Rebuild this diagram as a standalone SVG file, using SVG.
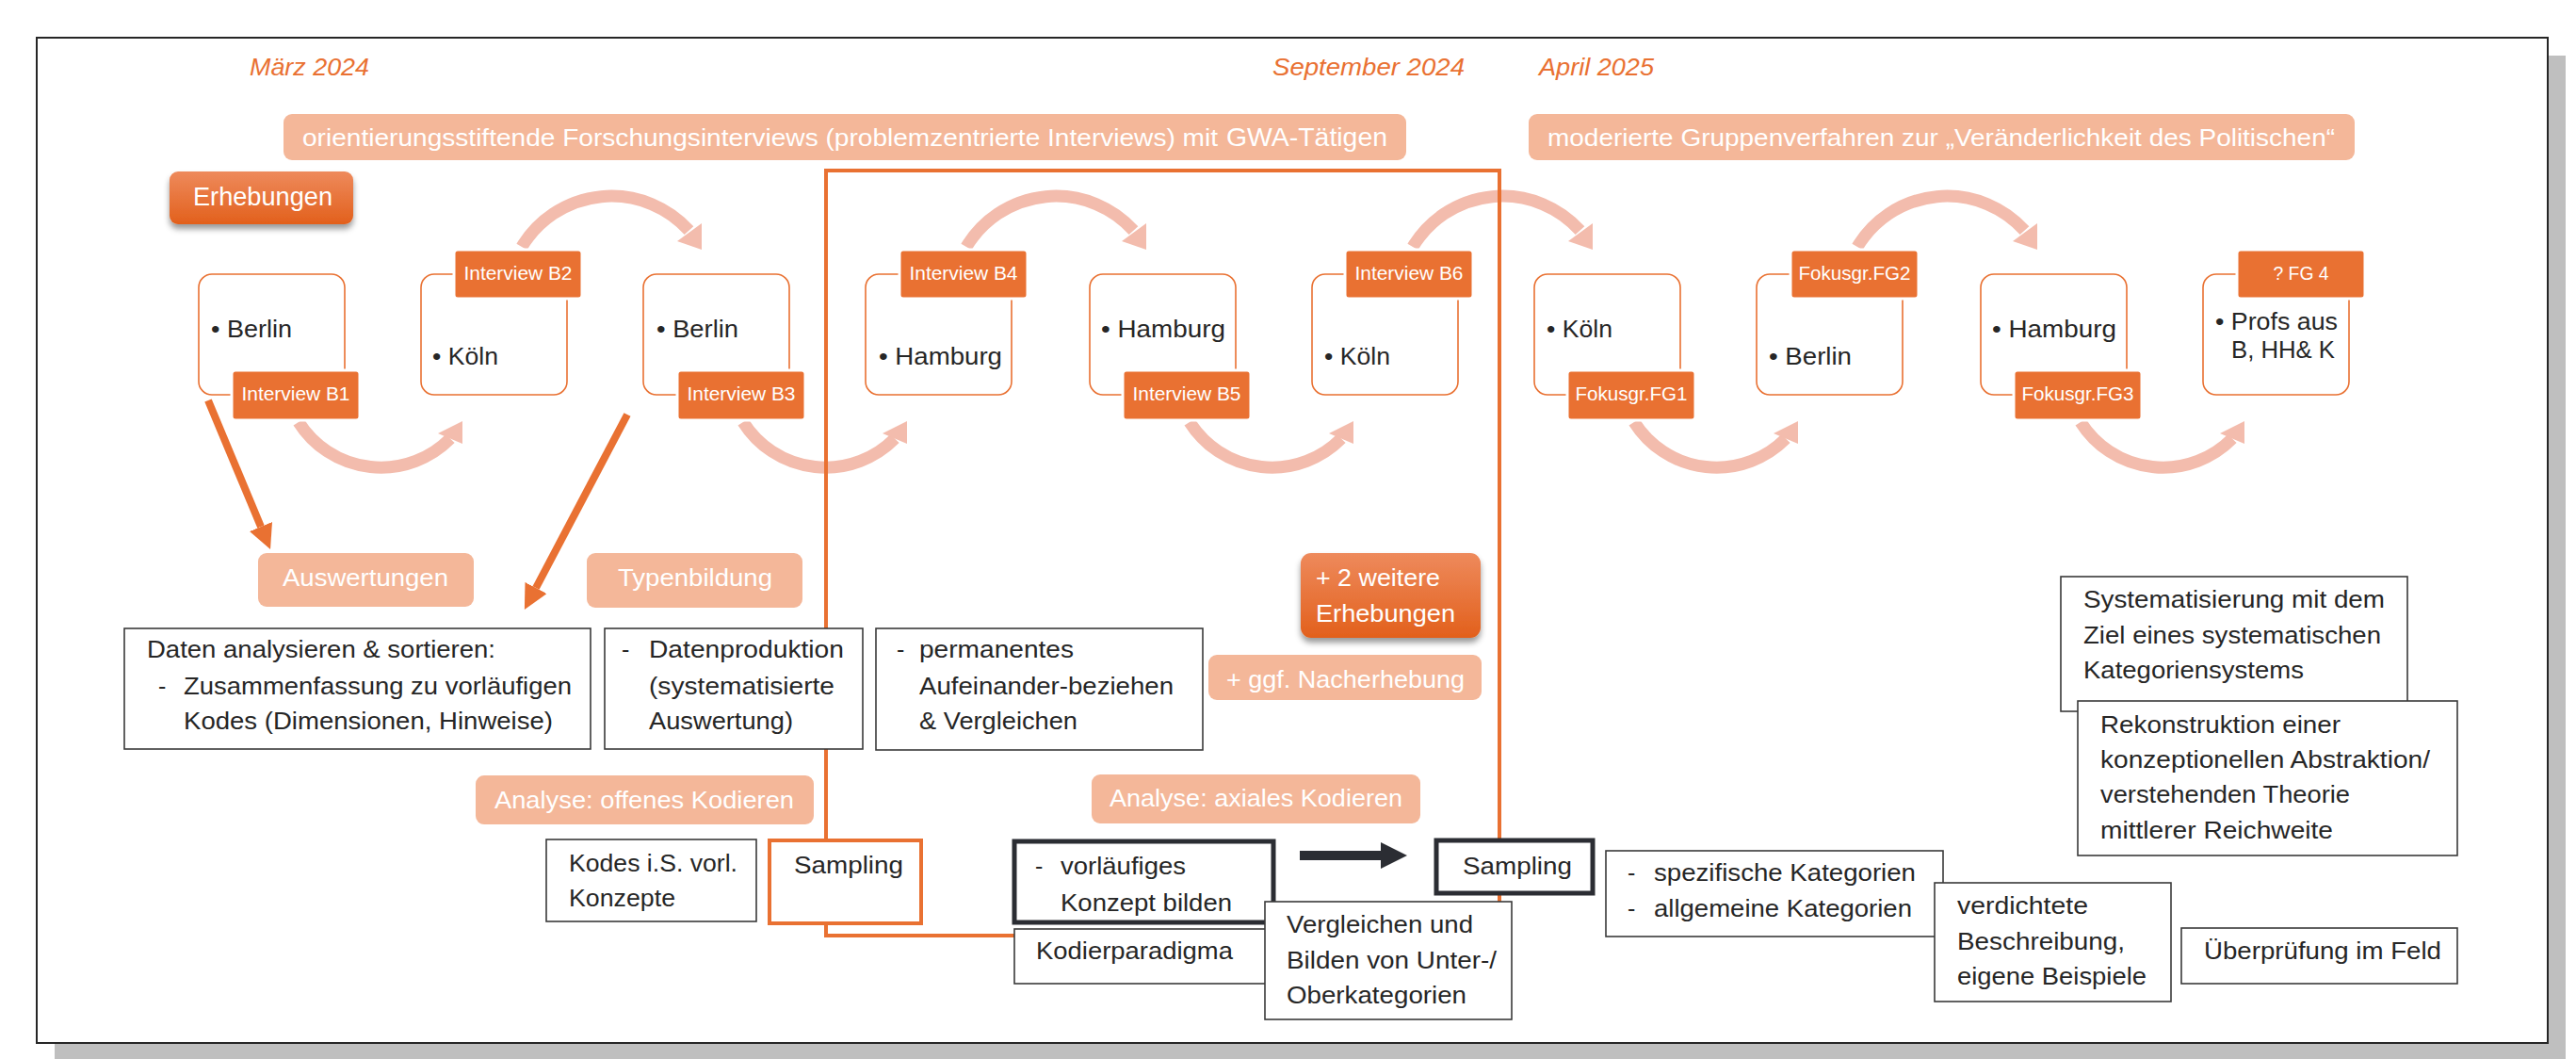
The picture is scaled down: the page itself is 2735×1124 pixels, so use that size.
<svg xmlns="http://www.w3.org/2000/svg" width="2735" height="1124" viewBox="0 0 2735 1124">
<defs>
<linearGradient id="gOr" x1="0" y1="0" x2="0" y2="1"><stop offset="0" stop-color="#EE8A5C"/><stop offset="1" stop-color="#E2601C"/></linearGradient>
<filter id="sh" x="-20%" y="-20%" width="140%" height="170%"><feDropShadow dx="0" dy="5" stdDeviation="3" flood-color="#000" flood-opacity="0.4"/></filter>
<marker id="mOr" markerUnits="userSpaceOnUse" viewBox="0 0 26 26" markerWidth="26" markerHeight="26" refX="0" refY="13" orient="auto"><path d="M0,0 L26,13 L0,26 z" fill="#E97132"/></marker>
<marker id="mBk" markerUnits="userSpaceOnUse" viewBox="0 0 28 28" markerWidth="28" markerHeight="28" refX="0" refY="14" orient="auto"><path d="M0,0 L28,14 L0,28 z" fill="#2B2D33"/></marker>
<g id="arcT"><path d="M107,262 A111,111 0 0 1 284.5,244.7" class="arc"/><polygon points="272,256 298,237 298,265" class="arcH"/></g>
<g id="arcB"><path d="M106,448 A103.5,103.5 0 0 0 267,465.5" class="arc"/><polygon points="254,460 280,471 280,447" class="arcH"/></g>
</defs>
<style>
.t{font-family:"Liberation Sans",Arial,sans-serif;fill:#262626;font-size:25px}
.w{fill:#fff}
.mon{font-style:italic;fill:#E97132;font-size:26px}
.nb{fill:#fff;stroke:#E97132;stroke-width:1.6}
.lb{fill:#E97132;stroke:#fff;stroke-width:3}
.lt{font-size:20px;fill:#fff;text-anchor:middle}
.bx{fill:#fff;stroke:#3A3A3A;stroke-width:1.6}
.lp{fill:#F4B799}
.arc{fill:none;stroke:#F3BCAD;stroke-width:13}
.arcH{fill:#F3BCAD}
.ol{fill:none;stroke:#E97132;stroke-width:8}
</style>

<!-- page frame -->
<rect x="58" y="59" width="2666" height="1066" fill="#BFBFBF"/>
<rect x="39" y="40" width="2666" height="1067" fill="#fff" stroke="#262626" stroke-width="2"/>

<!-- time labels -->
<g id="months">
<text class="t mon" x="265" y="80" textLength="127" lengthAdjust="spacingAndGlyphs">März 2024</text>
<text class="t mon" x="1351" y="80" textLength="204" lengthAdjust="spacingAndGlyphs">September 2024</text>
<text class="t mon" x="1634" y="80" textLength="122" lengthAdjust="spacingAndGlyphs">April 2025</text>
</g>

<!-- banners -->
<g id="banner1">
<rect class="lp" x="301" y="121" width="1192" height="49" rx="9"/>
<text class="t w" x="321" y="155" textLength="972" lengthAdjust="spacingAndGlyphs">orientierungsstiftende Forschungsinterviews (problemzentrierte Interviews) mit</text>
<text class="t w" x="1302" y="155" style="font-size:28px" textLength="171" lengthAdjust="spacingAndGlyphs">GWA-Tätigen</text>
</g>
<g id="banner2">
<rect class="lp" x="1623" y="121" width="877" height="49" rx="9"/>
<text class="t w" x="1643" y="155" textLength="836" lengthAdjust="spacingAndGlyphs">moderierte Gruppenverfahren zur „Veränderlichkeit des Politischen“</text>
</g>

<g id="erhebungen">
<rect x="180" y="182" width="195" height="56" rx="9" fill="url(#gOr)" filter="url(#sh)"/>
<text class="t w" x="205" y="218" style="font-size:27px" textLength="148" lengthAdjust="spacingAndGlyphs">Erhebungen</text>
</g>

<!-- connectors -->
<g id="connectors">
<use href="#arcT" transform="translate(447,0)"/>
<use href="#arcT" transform="translate(919,0)"/>
<use href="#arcT" transform="translate(1393,0)"/>
<use href="#arcT" transform="translate(1865,0)"/>
<use href="#arcB" transform="translate(211,0)"/>
<use href="#arcB" transform="translate(683,0)"/>
<use href="#arcB" transform="translate(1157,0)"/>
<use href="#arcB" transform="translate(1629,0)"/>
<use href="#arcB" transform="translate(2103,0)"/>
<line class="ol" x1="221" y1="425" x2="277" y2="559" marker-end="url(#mOr)"/>
<line class="ol" x1="666" y1="440" x2="569" y2="624" marker-end="url(#mOr)"/>
<line x1="1380" y1="908" x2="1466" y2="908" stroke="#2B2D33" stroke-width="10" marker-end="url(#mBk)"/>
</g>

<!-- orange frame (phase) -->
<g id="phaseFrame">
<rect x="877" y="181" width="715" height="812" fill="none" stroke="#E97132" stroke-width="4"/>
</g>

<!-- interview / focus group nodes -->
<g id="nodeB1">
<rect class="nb" x="211" y="291" width="155" height="128" rx="14"/>
<text class="t" x="224" y="358" textLength="86" lengthAdjust="spacingAndGlyphs">• Berlin</text>
<rect class="lb" x="246" y="393" width="136" height="53" rx="4"/>
<text class="t lt" x="314" y="425" textLength="115" lengthAdjust="spacingAndGlyphs">Interview B1</text>
</g>
<g id="nodeB2">
<rect class="nb" x="447" y="291" width="155" height="128" rx="14"/>
<text class="t" x="459" y="387" textLength="70" lengthAdjust="spacingAndGlyphs">• Köln</text>
<rect class="lb" x="482" y="265" width="136" height="52" rx="4"/>
<text class="t lt" x="550" y="297" textLength="115" lengthAdjust="spacingAndGlyphs">Interview B2</text>
</g>
<g id="nodeB3">
<rect class="nb" x="683" y="291" width="155" height="128" rx="14"/>
<text class="t" x="697" y="358" textLength="87" lengthAdjust="spacingAndGlyphs">• Berlin</text>
<rect class="lb" x="719" y="393" width="136" height="53" rx="4"/>
<text class="t lt" x="787" y="425" textLength="115" lengthAdjust="spacingAndGlyphs">Interview B3</text>
</g>
<g id="nodeB4">
<rect class="nb" x="919" y="291" width="155" height="128" rx="14"/>
<text class="t" x="933" y="387" textLength="131" lengthAdjust="spacingAndGlyphs">• Hamburg</text>
<rect class="lb" x="955" y="265" width="136" height="52" rx="4"/>
<text class="t lt" x="1023" y="297" textLength="115" lengthAdjust="spacingAndGlyphs">Interview B4</text>
</g>
<g id="nodeB5">
<rect class="nb" x="1157" y="291" width="155" height="128" rx="14"/>
<text class="t" x="1169" y="358" textLength="132" lengthAdjust="spacingAndGlyphs">• Hamburg</text>
<rect class="lb" x="1192" y="393" width="136" height="53" rx="4"/>
<text class="t lt" x="1260" y="425" textLength="115" lengthAdjust="spacingAndGlyphs">Interview B5</text>
</g>
<g id="nodeB6">
<rect class="nb" x="1393" y="291" width="155" height="128" rx="14"/>
<text class="t" x="1406" y="387" textLength="70" lengthAdjust="spacingAndGlyphs">• Köln</text>
<rect class="lb" x="1428" y="265" width="136" height="52" rx="4"/>
<text class="t lt" x="1496" y="297" textLength="115" lengthAdjust="spacingAndGlyphs">Interview B6</text>
</g>
<g id="nodeFG1">
<rect class="nb" x="1629" y="291" width="155" height="128" rx="14"/>
<text class="t" x="1642" y="358" textLength="70" lengthAdjust="spacingAndGlyphs">• Köln</text>
<rect class="lb" x="1664" y="393" width="136" height="53" rx="4"/>
<text class="t lt" x="1732" y="425" textLength="119" lengthAdjust="spacingAndGlyphs">Fokusgr.FG1</text>
</g>
<g id="nodeFG2">
<rect class="nb" x="1865" y="291" width="155" height="128" rx="14"/>
<text class="t" x="1878" y="387" textLength="88" lengthAdjust="spacingAndGlyphs">• Berlin</text>
<rect class="lb" x="1901" y="265" width="136" height="52" rx="4"/>
<text class="t lt" x="1969" y="297" textLength="119" lengthAdjust="spacingAndGlyphs">Fokusgr.FG2</text>
</g>
<g id="nodeFG3">
<rect class="nb" x="2103" y="291" width="155" height="128" rx="14"/>
<text class="t" x="2115" y="358" textLength="132" lengthAdjust="spacingAndGlyphs">• Hamburg</text>
<rect class="lb" x="2138" y="393" width="136" height="53" rx="4"/>
<text class="t lt" x="2206" y="425" textLength="119" lengthAdjust="spacingAndGlyphs">Fokusgr.FG3</text>
</g>
<g id="nodeFG4">
<rect class="nb" x="2339" y="291" width="155" height="128" rx="14"/>
<text class="t" x="2352" y="350" textLength="130" lengthAdjust="spacingAndGlyphs">• Profs aus</text>
<text class="t" x="2369" y="380" textLength="110" lengthAdjust="spacingAndGlyphs">B, HH&amp; K</text>
<rect class="lb" x="2375" y="265" width="136" height="52" rx="4"/>
<text class="t lt" x="2443" y="297" textLength="59" lengthAdjust="spacingAndGlyphs">? FG 4</text>
</g>

<!-- analysis labels -->
<g id="auswertungen">
<rect class="lp" x="274" y="587" width="229" height="57" rx="9"/>
<text class="t w" x="300" y="622" style="font-size:26px" textLength="176" lengthAdjust="spacingAndGlyphs">Auswertungen</text>
</g>
<g id="typenbildung">
<rect class="lp" x="623" y="587" width="229" height="58" rx="9"/>
<text class="t w" x="656" y="622" style="font-size:26px" textLength="164" lengthAdjust="spacingAndGlyphs">Typenbildung</text>
</g>

<g id="datenAnalysieren">
<rect class="bx" x="132" y="667" width="495" height="128"/>
<text class="t" x="156" y="698" textLength="370" lengthAdjust="spacingAndGlyphs">Daten analysieren &amp; sortieren:</text>
<text class="t" x="168" y="737">-</text>
<text class="t" x="195" y="737" textLength="412" lengthAdjust="spacingAndGlyphs">Zusammenfassung zu vorläufigen</text>
<text class="t" x="195" y="774" textLength="392" lengthAdjust="spacingAndGlyphs">Kodes (Dimensionen, Hinweise)</text>
</g>
<g id="datenproduktion">
<rect class="bx" x="642" y="667" width="274" height="128"/>
<text class="t" x="660" y="698">-</text>
<text class="t" x="689" y="698" textLength="207" lengthAdjust="spacingAndGlyphs">Datenproduktion</text>
<text class="t" x="689" y="737" textLength="197" lengthAdjust="spacingAndGlyphs">(systematisierte</text>
<text class="t" x="689" y="774" textLength="153" lengthAdjust="spacingAndGlyphs">Auswertung)</text>
</g>
<g id="permanentes">
<rect class="bx" x="930" y="667" width="347" height="129"/>
<text class="t" x="952" y="698">-</text>
<text class="t" x="976" y="698" textLength="164" lengthAdjust="spacingAndGlyphs">permanentes</text>
<text class="t" x="976" y="737" textLength="270" lengthAdjust="spacingAndGlyphs">Aufeinander-beziehen</text>
<text class="t" x="976" y="774" textLength="168" lengthAdjust="spacingAndGlyphs">&amp; Vergleichen</text>
</g>

<g id="weitereErhebungen">
<rect x="1381" y="587" width="191" height="90" rx="11" fill="url(#gOr)" filter="url(#sh)"/>
<text class="t w" x="1397" y="622" style="font-size:26px" textLength="132" lengthAdjust="spacingAndGlyphs">+ 2 weitere</text>
<text class="t w" x="1397" y="660" style="font-size:26px" textLength="148" lengthAdjust="spacingAndGlyphs">Erhebungen</text>
</g>
<g id="nacherhebung">
<rect class="lp" x="1283" y="695" width="290" height="48" rx="9"/>
<text class="t w" x="1302" y="730" style="font-size:26px" textLength="253" lengthAdjust="spacingAndGlyphs">+ ggf. Nacherhebung</text>
</g>

<g id="systematisierung">
<rect class="bx" x="2188" y="612" width="368" height="143"/>
<text class="t" x="2212" y="645" textLength="320" lengthAdjust="spacingAndGlyphs">Systematisierung mit dem</text>
<text class="t" x="2212" y="683" textLength="316" lengthAdjust="spacingAndGlyphs">Ziel eines systematischen</text>
<text class="t" x="2212" y="720" textLength="234" lengthAdjust="spacingAndGlyphs">Kategoriensystems</text>
</g>
<g id="rekonstruktion">
<rect class="bx" x="2206" y="744" width="403" height="164"/>
<text class="t" x="2230" y="778" textLength="255" lengthAdjust="spacingAndGlyphs">Rekonstruktion einer</text>
<text class="t" x="2230" y="815" textLength="350" lengthAdjust="spacingAndGlyphs">konzeptionellen Abstraktion/</text>
<text class="t" x="2230" y="852" textLength="265" lengthAdjust="spacingAndGlyphs">verstehenden Theorie</text>
<text class="t" x="2230" y="890" textLength="247" lengthAdjust="spacingAndGlyphs">mittlerer Reichweite</text>
</g>

<g id="offenesKodieren">
<rect class="lp" x="505" y="823" width="359" height="52" rx="9"/>
<text class="t w" x="525" y="858" style="font-size:26px" textLength="318" lengthAdjust="spacingAndGlyphs">Analyse: offenes Kodieren</text>
</g>
<g id="axialesKodieren">
<rect class="lp" x="1159" y="822" width="349" height="52" rx="9"/>
<text class="t w" x="1178" y="856" style="font-size:26px" textLength="311" lengthAdjust="spacingAndGlyphs">Analyse: axiales Kodieren</text>
</g>

<g id="kodes">
<rect class="bx" x="580" y="891" width="223" height="87"/>
<text class="t" x="604" y="925" textLength="179" lengthAdjust="spacingAndGlyphs">Kodes i.S. vorl.</text>
<text class="t" x="604" y="962" textLength="113" lengthAdjust="spacingAndGlyphs">Konzepte</text>
</g>
<g id="sampling1">
<rect x="817" y="892" width="161" height="88" fill="#fff" stroke="#E97132" stroke-width="4"/>
<text class="t" x="843" y="927" textLength="116" lengthAdjust="spacingAndGlyphs">Sampling</text>
</g>
<g id="vorlaeufiges">
<rect x="1077" y="893" width="275" height="86" fill="#fff" stroke="#2B2D33" stroke-width="5"/>
<text class="t" x="1099" y="928">-</text>
<text class="t" x="1126" y="928" textLength="133" lengthAdjust="spacingAndGlyphs">vorläufiges</text>
<text class="t" x="1126" y="967" textLength="182" lengthAdjust="spacingAndGlyphs">Konzept bilden</text>
</g>
<g id="kodierparadigma">
<rect class="bx" x="1077" y="986" width="272" height="58"/>
<text class="t" x="1100" y="1018" textLength="209" lengthAdjust="spacingAndGlyphs">Kodierparadigma</text>
</g>
<g id="vergleichen">
<rect class="bx" x="1343" y="957" width="262" height="125"/>
<text class="t" x="1366" y="990" textLength="198" lengthAdjust="spacingAndGlyphs">Vergleichen und</text>
<text class="t" x="1366" y="1028" textLength="223" lengthAdjust="spacingAndGlyphs">Bilden von Unter-/</text>
<text class="t" x="1366" y="1065" textLength="191" lengthAdjust="spacingAndGlyphs">Oberkategorien</text>
</g>
<g id="sampling2">
<rect x="1525" y="892" width="166" height="56" fill="#fff" stroke="#2B2D33" stroke-width="5"/>
<text class="t" x="1553" y="928" textLength="116" lengthAdjust="spacingAndGlyphs">Sampling</text>
</g>
<g id="kategorien">
<rect class="bx" x="1705" y="903" width="358" height="91"/>
<text class="t" x="1728" y="935">-</text>
<text class="t" x="1756" y="935" textLength="278" lengthAdjust="spacingAndGlyphs">spezifische Kategorien</text>
<text class="t" x="1728" y="973">-</text>
<text class="t" x="1756" y="973" textLength="274" lengthAdjust="spacingAndGlyphs">allgemeine Kategorien</text>
</g>
<g id="verdichtete">
<rect class="bx" x="2054" y="937" width="251" height="126"/>
<text class="t" x="2078" y="970" textLength="139" lengthAdjust="spacingAndGlyphs">verdichtete</text>
<text class="t" x="2078" y="1008" textLength="178" lengthAdjust="spacingAndGlyphs">Beschreibung,</text>
<text class="t" x="2078" y="1045" textLength="201" lengthAdjust="spacingAndGlyphs">eigene Beispiele</text>
</g>
<g id="ueberpruefung">
<rect class="bx" x="2316" y="985" width="293" height="59"/>
<text class="t" x="2340" y="1018" textLength="252" lengthAdjust="spacingAndGlyphs">Überprüfung im Feld</text>
</g>
</svg>
